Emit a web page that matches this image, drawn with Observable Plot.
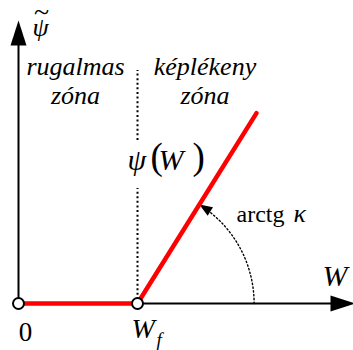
<!DOCTYPE html>
<html>
<head>
<meta charset="utf-8">
<script src="https://cdn.jsdelivr.net/npm/d3@7"></script>
<script src="https://cdn.jsdelivr.net/npm/@observablehq/plot@0.6"></script>
<style>
  body { margin: 0; background: #fff; }
  #chart svg text { font-family: "Liberation Serif", serif; }
</style>
</head>
<body>
<div id="chart"></div>
<script>
// Piecewise-linear damage function ψ(W): zero in the elastic zone, slope κ beyond W_f
const W = [0, 1, 2];          // W values: origin, W_f, end of the plastic branch
const psi = [0, 0, 1.6];      // ψ at those W values
const tickValues = [0, 1];    // positions of the x labels
const tickLabels = ["0", "W"];
const tickSubscripts = ["", "f"];
const zoneLabels = ["rugalmas\nzóna", "képlékeny\nzóna"];
const zoneCenters = [0.479, 1.567];

const Wf = W[1];
const kappa = (psi[2] - psi[1]) / (W[2] - W[1]);
const theta = Math.atan(kappa);

const curve = W.map((w, i) => ({W: w, psi: psi[i]}));
const ticks = tickValues.map((v, i) => ({v, label: tickLabels[i], sub: tickSubscripts[i]}));
const zones = zoneLabels.map((t, i) => ({x: zoneCenters[i], t}));

// Dotted arc marking the angle arctg κ, centred on (W_f, 0)
const R = 0.98;
const arcEnd = theta - 0.1;
const arc = d3.range(0, 41).map(k => {
  const a = arcEnd * k / 40;
  return {x: Wf + R * Math.cos(a), y: R * Math.sin(a)};
});
const arcTip = {x: Wf + R * Math.cos(theta), y: R * Math.sin(theta)};

// Filled triangular arrowhead with its tip at the anchor point, pointing up
const head = (len, wid) => ({
  draw(ctx) {
    ctx.moveTo(0, 0);
    ctx.lineTo(wid / 2, len);
    ctx.lineTo(-wid / 2, len);
    ctx.closePath();
  }
});

const serif = "Liberation Serif";
const k = 119;
const label = (txt, x, y, size, italic, extra = {}) =>
  Plot.text([txt], {x, y, text: d => d, fontSize: size, fontFamily: serif,
    fontStyle: italic ? "italic" : "normal", fill: "black",
    textAnchor: "start", lineAnchor: "bottom", ...extra});

const chart = Plot.plot({
  width: 353,
  height: 350,
  margin: 0,
  x: {domain: [-18 / k, 335 / k], axis: null},
  y: {domain: [-47 / k, 303 / k], axis: null},
  style: {background: "white", color: "black"},
  marks: [
    // boundary between the zones
    Plot.ruleX([Wf], {y1: 1.37, y2: 1.958, stroke: "black", strokeWidth: 2, strokeDasharray: "2 2.6"}),
    Plot.ruleX([Wf], {y1: 0.03, y2: 0.966, stroke: "black", strokeWidth: 2, strokeDasharray: "2 2.6"}),
    // angle arc
    Plot.line(arc, {x: "x", y: "y", stroke: "black", strokeWidth: 1.4, strokeDasharray: "1.4 2.4"}),
    Plot.dot([arcTip], {x: "x", y: "y", symbol: head(13, 10), fill: "black", stroke: "none", rotate: -theta * 180 / Math.PI}),
    // axes
    Plot.ruleX([0], {y1: 0, y2: 2.2, stroke: "black", strokeWidth: 2}),
    Plot.ruleY([0], {x1: 0, x2: 2.75, stroke: "black", strokeWidth: 2}),
    Plot.dot([{x: 0, y: (303 - 20) / k}], {x: "x", y: "y", symbol: head(25, 16), fill: "black", stroke: "none"}),
    Plot.dot([{x: 337 / k, y: 0}], {x: "x", y: "y", symbol: head(25, 16), fill: "black", stroke: "none", rotate: 90}),
    // ψ(W)
    Plot.line(curve, {x: "W", y: "psi", stroke: "#ff0000", strokeWidth: 4.5}),
    Plot.dot(ticks, {x: "v", y: 0, r: 5.5, fill: "white", stroke: "black", strokeWidth: 2}),
    // tick labels
    Plot.text(ticks.filter(d => !d.sub), {x: "v", y: -0.311, text: "label", dx: 7, fontSize: 27, fontFamily: serif,
      fill: "black", textAnchor: "middle", lineAnchor: "bottom"}),
    Plot.text(ticks.filter(d => d.sub), {x: "v", y: -0.294, text: "label", dx: -6, fontSize: 28, fontFamily: serif,
      fontStyle: "italic", fill: "black", textAnchor: "start", lineAnchor: "bottom"}),
    Plot.text(ticks.filter(d => d.sub), {x: "v", y: -0.361, text: "sub", dx: 19, fontSize: 19, fontFamily: serif,
      fontStyle: "italic", fill: "black", textAnchor: "start", lineAnchor: "bottom"}),
    // zone labels
    Plot.text(zones, {x: "x", y: 1.68, text: "t", fontSize: 26, fontFamily: serif, fontStyle: "italic", fill: "black",
      lineHeight: 1.1, textAnchor: "middle", lineAnchor: "bottom"}),
    // axis titles
    label("ψ", 0.118, 2.244, 26, true),
    label("~", 0.13, 2.374, 28, false),
    label("W", 2.555, 0.151, 30, true),
    // curve label ψ(W)
    label("ψ", 0.916, 1.118, 30, true),
    label("(", 1.109, 1.134, 37, false),
    label("W", 1.176, 1.118, 30, true),
    label(")", 1.462, 1.134, 37, false),
    // slope label
    label("arctg", 1.832, 0.689, 24, false),
    label("κ", 2.311, 0.689, 26, true)
  ]
});

document.getElementById("chart").append(chart);
</script>
</body>
</html>
